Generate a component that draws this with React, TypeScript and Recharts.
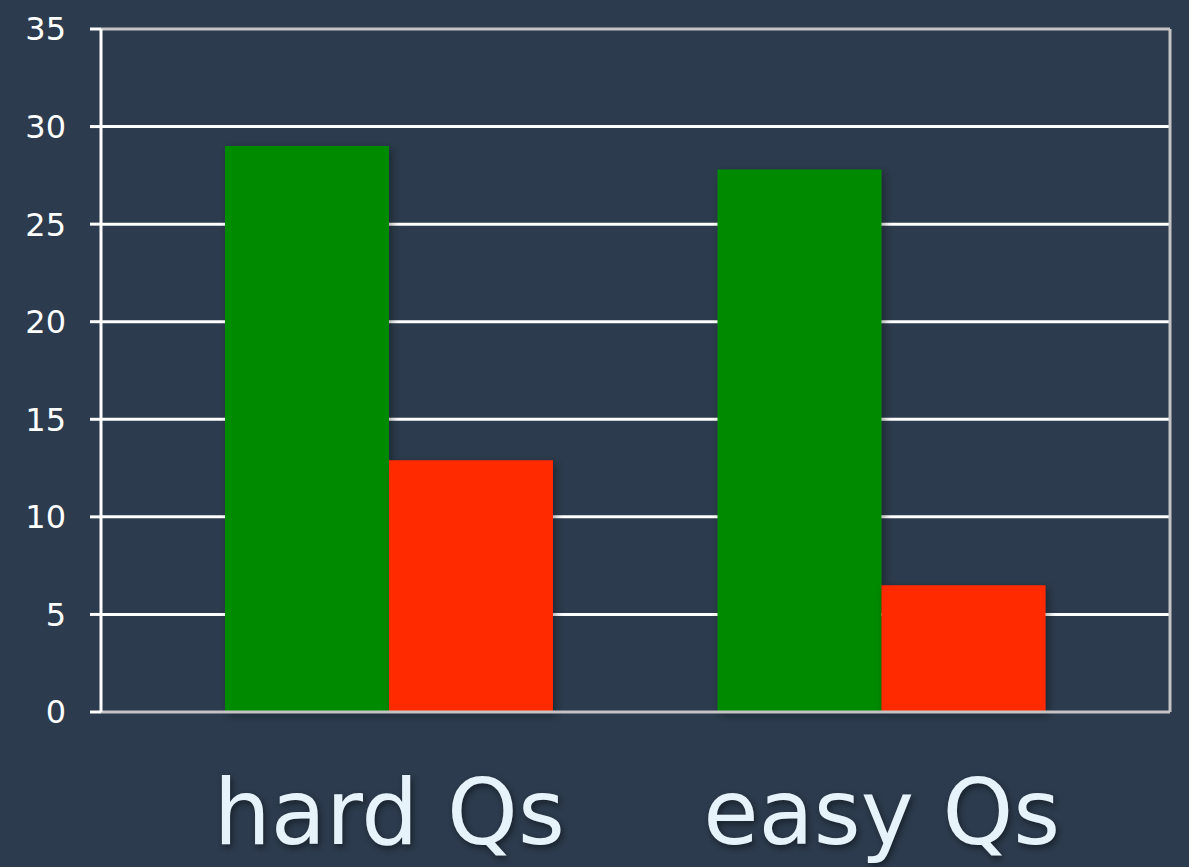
import {
  BarChart,
  Bar,
  XAxis,
  YAxis,
  CartesianGrid,
  ReferenceLine,
} from "recharts";

// #region data
const categories = ["hard Qs", "easy Qs"];
const greenValues = [29, 27.8];
const redValues = [12.9, 6.5];
const yTicks = [0, 5, 10, 15, 20, 25, 30, 35];
// #endregion

const data = categories.map((name, i) => ({
  name,
  green: greenValues[i],
  red: redValues[i],
}));

const CategoryTick = (props: any) => {
  const { x, y, payload } = props;
  return (
    <text
      x={x}
      y={y + 132}
      textAnchor="middle"
      fill="#e6f3fb"
      fontSize={90}
      fontFamily="DejaVu Sans, sans-serif"
      style={{ filter: "drop-shadow(2px 3px 3px rgba(0,0,0,0.45))" }}
    >
      {payload.value}
    </text>
  );
};

const App = () => {
  return (
    <div
      style={{
        position: "fixed",
        left: 0,
        top: 0,
        width: 1189,
        height: 867,
        background: "#2c3b4d",
      }}
    >
      <BarChart
        width={1189}
        height={867}
        data={data}
        barGap={0}
        barSize={164}
        margin={{ top: 29, right: 18, left: 0, bottom: 0 }}
      >
        <defs>
          <filter id="barShadow" x="-10%" y="-10%" width="130%" height="130%">
            <feDropShadow dx="3" dy="3" stdDeviation="4" floodColor="#000" floodOpacity="0.35" />
          </filter>
        </defs>
        <CartesianGrid
          vertical={false}
          stroke="#ffffff"
          strokeWidth={3}
          horizontalValues={[5, 10, 15, 20, 25, 30]}
        />
        <ReferenceLine y={35} stroke="#c4c4c4" strokeWidth={3} ifOverflow="visible" />
        <XAxis
          dataKey="name"
          height={155}
          padding={{ left: 42, right: 42 }}
          tickLine={false}
          tickSize={0}
          tickMargin={0}
          axisLine={{ stroke: "#c4c4c4", strokeWidth: 3 }}
          tick={<CategoryTick />}
          interval={0}
        />
        <YAxis
          width={101}
          domain={[0, 35]}
          ticks={yTicks}
          interval={0}
          tickSize={11}
          tickMargin={24}
          axisLine={{ stroke: "#ffffff", strokeWidth: 3 }}
          tickLine={{ stroke: "#ffffff", strokeWidth: 3 }}
          tick={{ fill: "#ffffff", fontSize: 32, fontFamily: "DejaVu Sans, sans-serif" }}
        />
        <YAxis
          yAxisId="right"
          orientation="right"
          width={1}
          domain={[0, 35]}
          tick={false}
          tickLine={false}
          axisLine={{ stroke: "#c4c4c4", strokeWidth: 3 }}
        />
        <Bar
          dataKey="green"
          fill="#008a00"
          isAnimationActive={false}
          style={{ filter: "url(#barShadow)" }}
        />
        <Bar
          dataKey="red"
          fill="#ff2a00"
          isAnimationActive={false}
          style={{ filter: "url(#barShadow)" }}
        />
      </BarChart>
    </div>
  );
};

export default App;
